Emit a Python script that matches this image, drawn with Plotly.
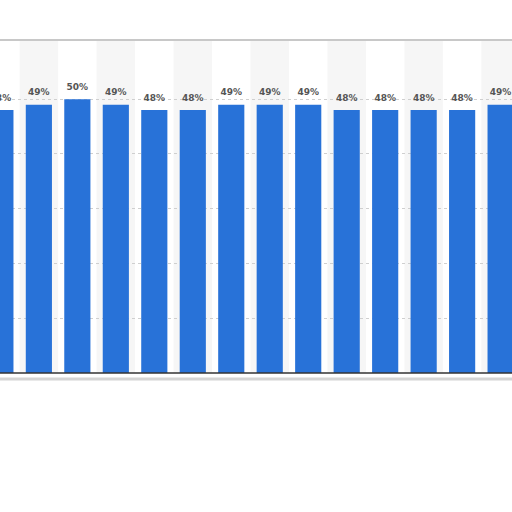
import plotly.graph_objects as go

# share per category (leftmost and rightmost bars are cut off in the picture)
positions = list(range(14))
shares = [48, 49, 50, 49, 48, 48, 49, 49, 49, 48, 48, 48, 48, 49]
labels = [f"{v}%" for v in shares]

bar = go.Bar(
    x=positions,
    y=shares,
    width=0.68,
    marker=dict(color="#2872d8", line=dict(width=0)),
    hoverinfo="skip",
)

# value labels sit a little above each bar
label_trace = go.Scatter(
    x=positions,
    y=shares,
    mode="markers+text",
    text=labels,
    textposition="top center",
    marker=dict(size=10, opacity=0),
    textfont=dict(family="DejaVu Sans", size=9, color="#555555", weight="bold"),
    cliponaxis=False,
    hoverinfo="skip",
)

# alternating column shading
bands = []
for i in positions:
    if i % 2 == 1:
        bands.append(dict(type="rect", xref="x", yref="paper",
                          x0=i - 0.5, x1=i + 0.5, y0=0, y1=1,
                          fillcolor="#f6f6f6", line=dict(width=0), layer="below"))

frame = [
    dict(type="line", xref="paper", yref="paper", x0=0, x1=1, y0=1, y1=1,
         line=dict(color="#c8c8c8", width=2)),
    dict(type="line", xref="paper", yref="paper", x0=0, x1=1, y0=-0.018, y1=-0.018,
         line=dict(color="#d4d4d4", width=3)),
    dict(type="line", xref="paper", yref="paper", x0=0, x1=1, y0=0, y1=0,
         line=dict(color="#333333", width=1.5)),
]

layout = go.Layout(
    width=512, height=512,
    margin=dict(l=0, r=0, t=40, b=139),
    paper_bgcolor="white",
    plot_bgcolor="white",
    showlegend=False,
    xaxis=dict(range=[-0.01, 13.296], showticklabels=False, showgrid=False,
               zeroline=False, fixedrange=True),
    yaxis=dict(range=[0, 60.8], showticklabels=False, tickvals=[10, 20, 30, 40, 50],
               showgrid=True, gridcolor="#cfcfcf", griddash="dot", gridwidth=1,
               zeroline=False, fixedrange=True),
    shapes=bands + frame,
)

fig = go.Figure(data=[bar, label_trace], layout=layout)
fig.write_html("out.html", config={"displayModeBar": False},
               post_script="document.body.style.margin='0';")
